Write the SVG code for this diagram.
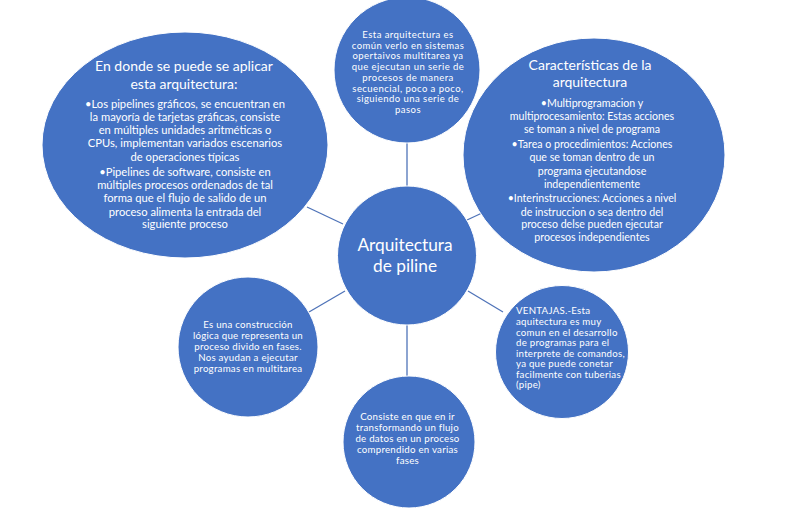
<svg xmlns="http://www.w3.org/2000/svg" width="795" height="511" viewBox="0 0 795 511">
<style>
.n{fill:#4472C4;stroke:#ffffff;stroke-width:1}
.c{stroke:#4f73b8;stroke-width:1.3;fill:none}
text{fill:#ffffff;font-family:Lato,"Liberation Sans",sans-serif;text-anchor:middle}
.s9{font-size:9.7px;letter-spacing:0.25px}
.st{font-size:9.5px;letter-spacing:0.45px}
.s11{font-size:10.6px}
.sL{font-size:11.2px}
.s14{font-size:14px}
.l{text-anchor:start}
</style>
<rect width="795" height="511" fill="#ffffff"/>
<g id="connectors">
<line class="c" x1="407" y1="143" x2="407" y2="186"/>
<line class="c" x1="307" y1="207" x2="343" y2="224"/>
<line class="c" x1="467" y1="220" x2="482" y2="213"/>
<line class="c" x1="309" y1="312" x2="345" y2="291"/>
<line class="c" x1="468" y1="291" x2="503" y2="312"/>
<line class="c" x1="407" y1="325" x2="407" y2="377"/>
</g>
<g id="node-left">
<ellipse class="n" cx="185" cy="145" rx="143" ry="113"/>
<text class="s14"><tspan x="184" y="71">En donde se puede se aplicar</tspan><tspan x="184" y="89">esta arquitectura:</tspan></text>
<text class="sL"><tspan x="185" y="108">•Los pipelines gráficos, se encuentran en</tspan><tspan x="185" y="121">la mayoría de tarjetas gráficas, consiste</tspan><tspan x="185" y="134">en múltiples unidades aritméticas o</tspan><tspan x="185" y="147">CPUs, implementan variados escenarios</tspan><tspan x="185" y="161">de operaciones  típicas</tspan><tspan x="185" y="176">•Pipelines de software, consiste en</tspan><tspan x="185" y="189">múltiples procesos ordenados de tal</tspan><tspan x="185" y="202">forma que el flujo de salido de un</tspan><tspan x="185" y="216">proceso alimenta la entrada del</tspan><tspan x="185" y="228">siguiente proceso</tspan></text>
</g>
<g id="node-top">
<circle class="n" cx="407" cy="70" r="73"/>
<text class="st"><tspan x="408" y="38">Esta arquitectura es</tspan><tspan x="408" y="48.7">común verlo en sistemas</tspan><tspan x="408" y="59.4">opertaivos multitarea ya</tspan><tspan x="408" y="70">que ejecutan un serie de</tspan><tspan x="408" y="80.8">procesos de manera</tspan><tspan x="408" y="91.5">secuencial, poco a poco,</tspan><tspan x="408" y="102.2">siguiendo una serie de</tspan><tspan x="408" y="113">pasos</tspan></text>
</g>
<g id="node-right">
<ellipse class="n" cx="594" cy="155" rx="131" ry="117"/>
<text class="s14"><tspan x="590" y="70">Características de la</tspan><tspan x="590" y="87">arquitectura</tspan></text>
<text class="s11"><tspan x="592" y="107">•Multiprogramacion y</tspan><tspan x="592" y="120">multiprocesamiento: Estas acciones</tspan><tspan x="592" y="133">se toman a nivel de programa</tspan><tspan x="592" y="148">•Tarea o procedimientos: Acciones</tspan><tspan x="592" y="161">que se toman dentro de un</tspan><tspan x="592" y="175">programa ejecutandose</tspan><tspan x="592" y="188">independientemente</tspan><tspan x="592" y="202">•Interinstrucciones: Acciones a nivel</tspan><tspan x="592" y="216">de instruccion o sea dentro del</tspan><tspan x="592" y="228">proceso delse pueden ejecutar</tspan><tspan x="592" y="241">procesos independientes</tspan></text>
</g>
<g id="node-center">
<circle class="n" cx="407" cy="255.5" r="69.5"/>
<text style="font-size:17.3px"><tspan x="405" y="251">Arquitectura</tspan><tspan x="405" y="272">de piline</tspan></text>
</g>
<g id="node-bottom-left">
<circle class="n" cx="248" cy="347" r="70"/>
<text class="s9"><tspan x="248" y="328">Es una construcción</tspan><tspan x="248" y="338.5">lógica que representa un</tspan><tspan x="248" y="349.5">proceso divido en fases.</tspan><tspan x="248" y="361">Nos ayudan a ejecutar</tspan><tspan x="248" y="372">programas en multitarea</tspan></text>
</g>
<g id="node-bottom">
<circle class="n" cx="409" cy="442" r="66"/>
<text class="s9"><tspan x="407.5" y="420">Consiste en que en ir</tspan><tspan x="407.5" y="431">transformando un flujo</tspan><tspan x="407.5" y="442">de datos en un proceso</tspan><tspan x="407.5" y="453">comprendido en varias</tspan><tspan x="407.5" y="464">fases</tspan></text>
</g>
<g id="node-bottom-right">
<circle class="n" cx="562" cy="352" r="66.5"/>
<text class="s9 l"><tspan x="516" y="314">VENTAJAS.-Esta</tspan><tspan x="516" y="325">aquitectura es muy</tspan><tspan x="516" y="335.5">comun en el desarrollo</tspan><tspan x="516" y="346">de programas para el</tspan><tspan x="516" y="356.5">interprete de comandos,</tspan><tspan x="516" y="367">ya que puede conetar</tspan><tspan x="516" y="377.5">facilmente con tuberias</tspan><tspan x="516" y="388">(pipe)</tspan></text>
</g>
</svg>
